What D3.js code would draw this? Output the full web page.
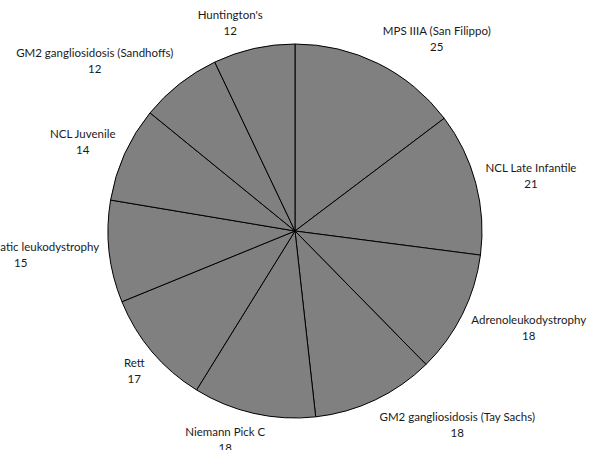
<!DOCTYPE html>
<html>
<head>
<meta charset="utf-8">
<script src="https://cdn.jsdelivr.net/npm/d3@7"></script>
<style>
  html, body { margin: 0; padding: 0; background: #fff; }
  svg { display: block; }
  text { font-family: Lato, "Open Sans", sans-serif; font-size: 11.5px; fill: #1a1a1a; }
</style>
</head>
<body>
<svg id="chart" width="589" height="450"></svg>
<script>
// Patient counts per disorder, clockwise from 12 o'clock
const disorders = [
  "MPS IIIA (San Filippo)",
  "NCL Late Infantile",
  "Adrenoleukodystrophy",
  "GM2 gangliosidosis (Tay Sachs)",
  "Niemann Pick C",
  "Rett",
  "Metachromatic leukodystrophy",
  "NCL Juvenile",
  "GM2 gangliosidosis (Sandhoffs)",
  "Huntington's"
];
const patients = [25, 21, 18, 18, 18, 17, 15, 14, 12, 12];

const width = 589, height = 450;
const cx = 295, cy = 231, radius = 187;

const svg = d3.select("#chart");
const g = svg.append("g").attr("transform", `translate(${cx},${cy})`);

const rows = disorders.map((name, i) => ({ name, value: patients[i] }));

const pie = d3.pie().value(d => d.value).sort(null);
const arc = d3.arc().innerRadius(0).outerRadius(radius);
const arcs = pie(rows);

g.selectAll("path.slice")
  .data(arcs)
  .join("path")
  .attr("class", "slice")
  .attr("d", arc)
  .attr("fill", "#808080")
  .attr("stroke", "#000")
  .attr("stroke-width", 1)
  .attr("stroke-linejoin", "round");

// Labels sit just outside the rim; the box is pushed away from the pie along the slice's mid-angle
const labelR = radius + 10;
const lineGap = 16;
const clamp = v => Math.max(-1, Math.min(1, v));

const labels = g.selectAll("g.label")
  .data(arcs)
  .join("g")
  .attr("class", "label");

labels.append("text")
  .attr("class", "name")
  .attr("text-anchor", "middle")
  .attr("dominant-baseline", "central")
  .text(d => d.data.name);

labels.append("text")
  .attr("class", "val")
  .attr("text-anchor", "middle")
  .attr("dominant-baseline", "central")
  .attr("y", lineGap)
  .text(d => d.data.value);

labels.each(function(d) {
  const sel = d3.select(this);
  const w = Math.max(sel.select(".name").node().getComputedTextLength(),
                     sel.select(".val").node().getComputedTextLength());
  const h = lineGap * 2;
  const a = (d.startAngle + d.endAngle) / 2;
  const s = Math.sin(a), c = Math.cos(a);
  const px = labelR * s, py = -labelR * c;
  const bx = px + clamp(3 * s) * w / 2;
  const by = py - clamp(1.2 * c) * h / 2;
  sel.attr("transform", `translate(${bx},${by - lineGap / 2})`);
});
</script>
</body>
</html>
